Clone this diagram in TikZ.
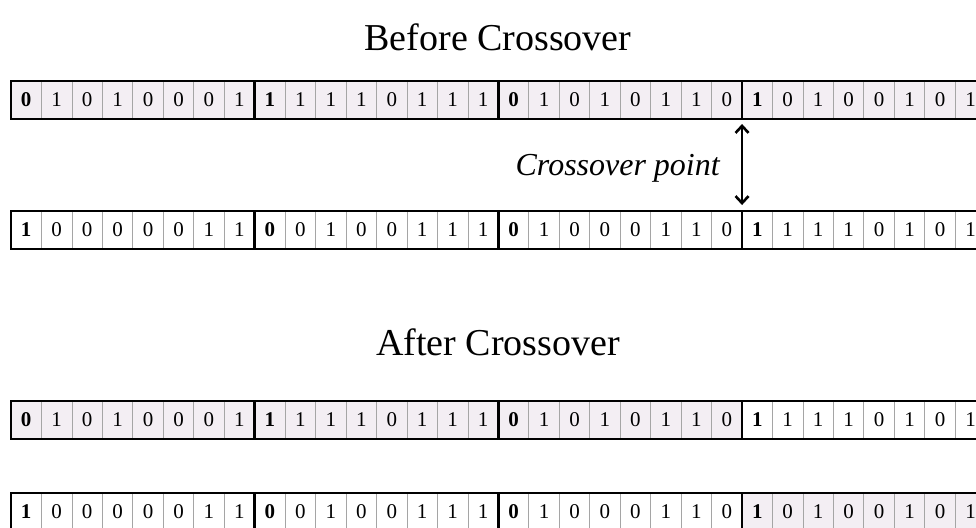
\documentclass[tikz,border=0pt]{standalone}
\usepackage{fontspec}
\setmainfont{Liberation Serif}
\usetikzlibrary{arrows.meta}
\definecolor{cellpink}{RGB}{243,238,243}
\definecolor{thingray}{RGB}{165,165,165}
\tikzset{
  cell/.style={draw=thingray, line width=0.8pt, minimum width=30.46pt, minimum height=38pt,
    inner sep=0pt, outer sep=0pt, font=\fontsize{21}{21}\selectfont},
  heavy/.style={line width=2.6pt, black},
  title/.style={font=\fontsize{38}{38}\selectfont, anchor=base, inner sep=0pt},
  dblarrow/.style={line width=2.6pt, {Straight Barb[length=7pt,width=13pt]}-{Straight Barb[length=7pt,width=13pt]}}
}
\newcommand\bitrow[5]{%
  \foreach \b [count=\i] in {#3} {
    \pgfmathtruncatemacro\m{mod(\i-1,8)}
    \ifnum\i<#4 \def\fc{white}\else\ifnum\i>#5 \def\fc{white}\else\def\fc{cellpink}\fi\fi
    \node[cell, fill=\fc] (#1\i) at ({11+(\i-0.5)*30.46},{#2+19}) {\ifnum\m=0 \textbf{\b}\else\b\fi};
  }
  \draw[heavy] (#11.north west) rectangle (#132.south east);
  \foreach \k in {8,16,24} {\draw[heavy] (#1\k.north east) -- (#1\k.south east);}
}
\begin{document}
\begin{tikzpicture}[x=1pt,y=-1pt]
\clip (0,0) rectangle (976,527);
\fill[white] (0,0) rectangle (976,527);
\node[title] (t1) at (498,50.5) {Before Crossover};
\bitrow{a}{81}{0,1,0,1,0,0,0,1,1,1,1,1,0,1,1,1,0,1,0,1,0,1,1,0,1,0,1,0,0,1,0,1}{1}{32}
\bitrow{b}{211}{1,0,0,0,0,0,1,1,0,0,1,0,0,1,1,1,0,1,0,0,0,1,1,0,1,1,1,1,0,1,0,1}{40}{40}
\node[font=\itshape\fontsize{32}{32}\selectfont, anchor=base east, inner sep=0pt] (cp) at (720,175) {Crossover point};
\draw[dblarrow] ([yshift=-5pt]a24.south east) -- ([yshift=6pt]b24.north east);
\node[title] (t2) at (498,355) {After Crossover};
\bitrow{c}{401}{0,1,0,1,0,0,0,1,1,1,1,1,0,1,1,1,0,1,0,1,0,1,1,0,1,1,1,1,0,1,0,1}{1}{24}
\bitrow{d}{493}{1,0,0,0,0,0,1,1,0,0,1,0,0,1,1,1,0,1,0,0,0,1,1,0,1,0,1,0,0,1,0,1}{25}{32}
\end{tikzpicture}
\end{document}
